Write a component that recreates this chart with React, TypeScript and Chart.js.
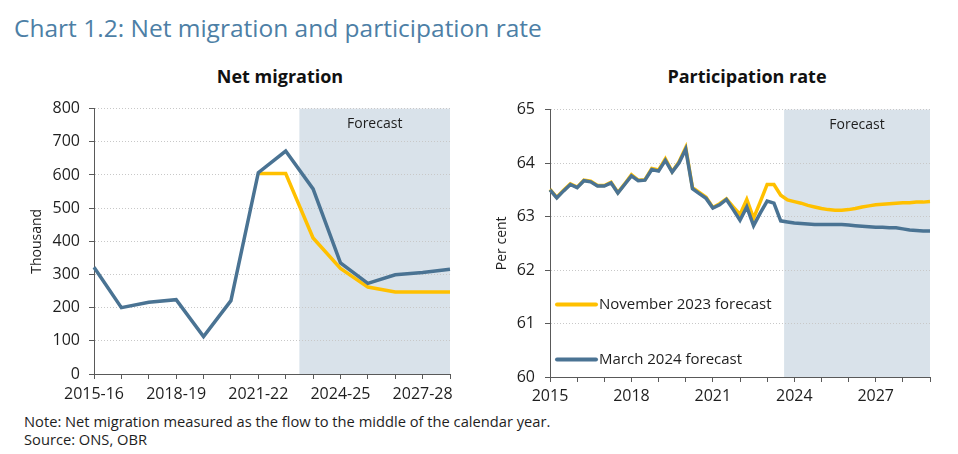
import { useEffect, useRef } from 'react';
import { Chart, registerables } from 'chart.js';

Chart.register(...registerables);

const FONT = '"Open Sans", sans-serif';
const BLUE = '#4a7393';
const YELLOW = '#ffc000';
const SHADE = '#d9e2ea';
const AXIS = '#595959';
const TEXT = '#1e1e1e';

// Net migration (thousand), financial years
const migrationYears = [
  '2015-16', '2016-17', '2017-18', '2018-19', '2019-20', '2020-21', '2021-22',
  '2022-23', '2023-24', '2024-25', '2025-26', '2026-27', '2027-28', '2028-29',
];
const migrationMarch2024 = [322, 200, 216, 224, 113, 221, 607, 672, 558, 335, 273, 299, 306, 316];
const migrationNov2023 = [null, null, null, null, null, null, 604, 604, 410, 318, 262, 247, 247, 247];
const migrationForecastStart = 7.5;

// Participation rate (per cent), quarterly from 2015 Q1 to 2029 Q1
const participationStartYear = 2015;
const participationMarch2024 = [
  63.50, 63.35, 63.48, 63.60, 63.54, 63.67, 63.65, 63.57, 63.57, 63.63, 63.44, 63.60,
  63.76, 63.67, 63.68, 63.88, 63.85, 64.05, 63.83, 64.00, 64.26, 63.52, 63.43, 63.34,
  63.16, 63.22, 63.32, 63.13, 62.93, 63.18, 62.83, 63.07, 63.29, 63.25, 62.92, 62.90,
  62.88, 62.87, 62.86, 62.85, 62.85, 62.85, 62.85, 62.85, 62.84, 62.83, 62.82, 62.81,
  62.80, 62.80, 62.79, 62.79, 62.77, 62.75, 62.74, 62.73, 62.73,
];
const participationNov2023 = [
  63.51, 63.36, 63.49, 63.61, 63.55, 63.68, 63.66, 63.58, 63.58, 63.64, 63.45, 63.61,
  63.78, 63.68, 63.69, 63.90, 63.87, 64.08, 63.84, 64.02, 64.29, 63.54, 63.45, 63.36,
  63.17, 63.24, 63.33, 63.18, 63.04, 63.32, 62.97, 63.28, 63.60, 63.60, 63.40, 63.31,
  63.28, 63.25, 63.21, 63.18, 63.15, 63.13, 63.12, 63.12, 63.13, 63.15, 63.18, 63.20,
  63.22, 63.23, 63.24, 63.25, 63.26, 63.26, 63.27, 63.27, 63.28,
];
const participationQuarters = participationMarch2024.map(
  (_, i) => `${participationStartYear + Math.floor(i / 4)} Q${(i % 4) + 1}`
);
const participationForecastStart = 34.5;

const legendItems = [
  { label: 'November 2023 forecast', color: YELLOW },
  { label: 'March 2024 forecast', color: BLUE },
];

function forecastPlugin(start: number) {
  return {
    id: 'forecastShade',
    beforeDraw(chart: any) {
      const { ctx, chartArea, scales } = chart;
      const x0 = scales.x.getPixelForValue(start);
      ctx.save();
      ctx.fillStyle = SHADE;
      ctx.fillRect(x0, chartArea.top, chartArea.right - x0, chartArea.bottom - chartArea.top);
      ctx.fillStyle = TEXT;
      ctx.font = `14px ${FONT}`;
      ctx.textAlign = 'center';
      ctx.textBaseline = 'middle';
      ctx.fillText('Forecast', (x0 + chartArea.right) / 2, chartArea.top + 15);
      ctx.restore();
    },
  };
}

const insideLegend = {
  id: 'insideLegend',
  afterDatasetsDraw(chart: any) {
    const { ctx, chartArea } = chart;
    ctx.save();
    legendItems.forEach((item, i) => {
      const y = chartArea.top + 195 + i * 55;
      const x = chartArea.left + 7;
      ctx.strokeStyle = item.color;
      ctx.lineWidth = 4;
      ctx.lineCap = 'round';
      ctx.beginPath();
      ctx.moveTo(x, y);
      ctx.lineTo(x + 39, y);
      ctx.stroke();
      ctx.fillStyle = TEXT;
      ctx.font = `15px ${FONT}`;
      ctx.textAlign = 'left';
      ctx.textBaseline = 'middle';
      ctx.fillText(item.label, x + 42, y);
    });
    ctx.restore();
  },
};

function axisOptions(yWidth: number, xHeight: number, yTitle: string, yTitlePad: number) {
  return {
    x: {
      afterFit: (s: any) => { s.height = xHeight; },
      offset: false,
      grid: { drawOnChartArea: false, drawTicks: true, tickLength: 5, tickColor: AXIS },
      border: { color: AXIS, width: 1 },
      ticks: { autoSkip: false, maxRotation: 0, padding: 6, color: TEXT, font: { size: 16, family: FONT } },
    },
    y: {
      afterFit: (s: any) => { s.width = yWidth; },
      grid: { color: '#c8c8c8', tickColor: AXIS, tickLength: 5, drawTicks: true },
      border: { color: AXIS, width: 1, dash: [1, 2] },
      ticks: { padding: 9, color: TEXT, font: { size: 16, family: FONT } },
      title: {
        display: true, text: yTitle, color: TEXT, font: { size: 14, family: FONT },
        padding: { top: yTitlePad, bottom: 0 },
      },
    },
  };
}

function NetMigrationChart() {
  const ref = useRef<HTMLCanvasElement>(null);
  useEffect(() => {
    if (!ref.current) return;
    const axes: any = axisOptions(94, 36, 'Thousand', 29);
    axes.x.ticks.callback = (_v: any, i: number) => (i % 3 === 0 ? migrationYears[i] : '');
    axes.y.min = 0;
    axes.y.max = 800;
    axes.y.ticks.stepSize = 100;
    const chart = new Chart(ref.current, {
      type: 'line',
      data: {
        labels: migrationYears,
        datasets: [
          { label: 'March 2024 forecast', data: migrationMarch2024, borderColor: BLUE, borderWidth: 3.5, pointRadius: 0, tension: 0 },
          { label: 'November 2023 forecast', data: migrationNov2023, borderColor: YELLOW, borderWidth: 3.5, pointRadius: 0, tension: 0 },
        ],
      },
      options: {
        responsive: true,
        maintainAspectRatio: false,
        animation: false,
        layout: { padding: { top: 9, right: 20, left: 0, bottom: 0 } },
        plugins: { legend: { display: false }, tooltip: { enabled: false } },
        scales: axes,
      },
      plugins: [forecastPlugin(migrationForecastStart)],
    });
    return () => chart.destroy();
  }, []);
  return <canvas ref={ref} />;
}

function ParticipationChart() {
  const ref = useRef<HTMLCanvasElement>(null);
  useEffect(() => {
    if (!ref.current) return;
    const axes: any = axisOptions(80, 33, 'Per cent', 24);
    axes.x.ticks.callback = (_v: any, i: number) =>
      i % 12 === 0 ? String(participationStartYear + i / 4) : '';
    axes.x.ticks.padding = 5;
    axes.x.grid.tickColor = (c: any) => (c.index % 4 === 0 ? AXIS : 'rgba(0,0,0,0)');
    axes.y.min = 60;
    axes.y.max = 65;
    axes.y.ticks.stepSize = 1;
    axes.y.ticks.padding = 10;
    const chart = new Chart(ref.current, {
      type: 'line',
      data: {
        labels: participationQuarters,
        datasets: [
          { label: 'March 2024 forecast', data: participationMarch2024, borderColor: BLUE, borderWidth: 3.5, pointRadius: 0, tension: 0 },
          { label: 'November 2023 forecast', data: participationNov2023, borderColor: YELLOW, borderWidth: 3.5, pointRadius: 0, tension: 0 },
        ],
      },
      options: {
        responsive: true,
        maintainAspectRatio: false,
        animation: false,
        layout: { padding: { top: 9, right: 28, left: 0, bottom: 0 } },
        plugins: { legend: { display: false }, tooltip: { enabled: false } },
        scales: axes,
      },
      plugins: [forecastPlugin(participationForecastStart), insideLegend],
    });
    return () => chart.destroy();
  }, []);
  return <canvas ref={ref} />;
}

export default function App() {
  const subTitle: any = {
    position: 'absolute', top: 64, width: 300, textAlign: 'center',
    fontFamily: FONT, fontWeight: 700, fontSize: 18, lineHeight: '24px', color: '#111',
  };
  const note: any = {
    position: 'absolute', left: 24, fontFamily: FONT, fontSize: 14.7, lineHeight: '18px', color: TEXT,
    whiteSpace: 'nowrap',
  };
  return (
    <div style={{ position: 'fixed', left: 0, top: 0, width: 958, height: 454, background: '#fff', overflow: 'hidden' }}>
      <div style={{ position: 'absolute', left: 14, top: 12, fontFamily: FONT, fontSize: 24.5, lineHeight: '32px', color: '#4d7fa6', whiteSpace: 'nowrap' }}>
        Chart 1.2: Net migration and participation rate
      </div>
      <div style={{ ...subTitle, left: 280 - 150 }}>Net migration</div>
      <div style={{ ...subTitle, left: 747 - 150 }}>Participation rate</div>
      <div style={{ position: 'absolute', left: 0, top: 90, width: 470, height: 320 }}>
        <NetMigrationChart />
      </div>
      <div style={{ position: 'absolute', left: 470, top: 90, width: 488, height: 320 }}>
        <ParticipationChart />
      </div>
      <div style={{ ...note, top: 412 }}>
        Note: Net migration measured as the flow to the middle of the calendar year.
      </div>
      <div style={{ ...note, top: 430 }}>Source: ONS, OBR</div>
    </div>
  );
}
